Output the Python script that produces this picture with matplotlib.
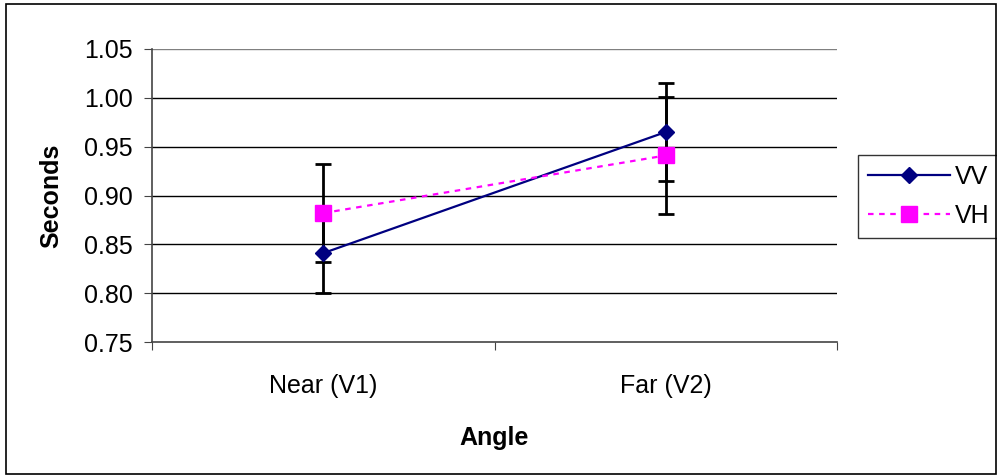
import matplotlib
matplotlib.use('Agg')
import matplotlib.pyplot as plt
from matplotlib.patches import Rectangle

categories = ['Near (V1)', 'Far (V2)']
vv_means = [0.841, 0.965]
vv_err = [0.041, 0.050]
vh_means = [0.882, 0.941]
vh_err = [0.050, 0.060]
yticks = [0.75, 0.80, 0.85, 0.90, 0.95, 1.00, 1.05]


def main():
    plt.rcParams['font.family'] = ['Liberation Sans', 'DejaVu Sans']
    fig = plt.figure(figsize=(9.97, 4.75), dpi=100)
    ax = fig.add_axes([152 / 997, 1 - 342 / 475, (837 - 152) / 997, (342 - 49) / 475])

    x = list(range(len(categories)))
    ax.errorbar(x, vv_means, yerr=vv_err, fmt='none', ecolor='black',
                elinewidth=2, capsize=6, capthick=2, zorder=3)
    ax.errorbar(x, vh_means, yerr=vh_err, fmt='none', ecolor='black',
                elinewidth=2, capsize=6, capthick=2, zorder=3)
    ax.plot(x, vv_means, color='#000080', lw=1.6, marker='D', markersize=7.8,
            label='VV', zorder=4)
    ax.plot(x, vh_means, color='#ff00ff', lw=1.6, linestyle=(0, (2.5, 2.5)),
            marker='s', markersize=11, label='VH', zorder=4)

    ax.set_xlim(-0.5, 1.5)
    ax.set_ylim(0.75, 1.05)
    ax.set_yticks(yticks)
    ax.set_yticklabels(['{:.2f}'.format(v) for v in yticks])
    ax.set_xticks([-0.5, 0.5, 1.5])
    ax.set_xticklabels([])
    ax.set_xticks(x, minor=True)
    ax.set_xticklabels(categories, minor=True)
    ax.tick_params(axis='x', which='minor', length=0, pad=23, labelsize=18)
    ax.tick_params(axis='x', which='major', length=6, color='#444444')
    ax.tick_params(axis='y', length=6, color='#444444', labelsize=18, pad=8)

    for v in yticks[1:]:
        ax.axhline(v, color='black' if v < 1.05 else '#808080', lw=1, zorder=1)
    for side in ['top', 'right']:
        ax.spines[side].set_visible(False)
    for side in ['left', 'bottom']:
        ax.spines[side].set_color('#444444')
        ax.spines[side].set_linewidth(1.2)

    ax.set_ylabel('Seconds', fontsize=18, fontweight='bold', labelpad=15)
    ax.set_xlabel('Angle', fontsize=18, fontweight='bold', labelpad=20)

    leg = ax.legend(loc='center left', bbox_to_anchor=(1.03, 0.497),
                    fontsize=18, frameon=True, fancybox=False, edgecolor='black',
                    handlelength=3.3, handletextpad=0.2, borderpad=0.4,
                    labelspacing=0.6, borderaxespad=0)
    leg.get_frame().set_linewidth(1)

    fig.patches.append(Rectangle((6 / 997, 1 / 475), 990 / 997, 470 / 475,
                                 transform=fig.transFigure, fill=False,
                                 edgecolor='black', lw=1.2))
    fig.savefig('out.png', dpi=100)


if __name__ == '__main__':
    main()
